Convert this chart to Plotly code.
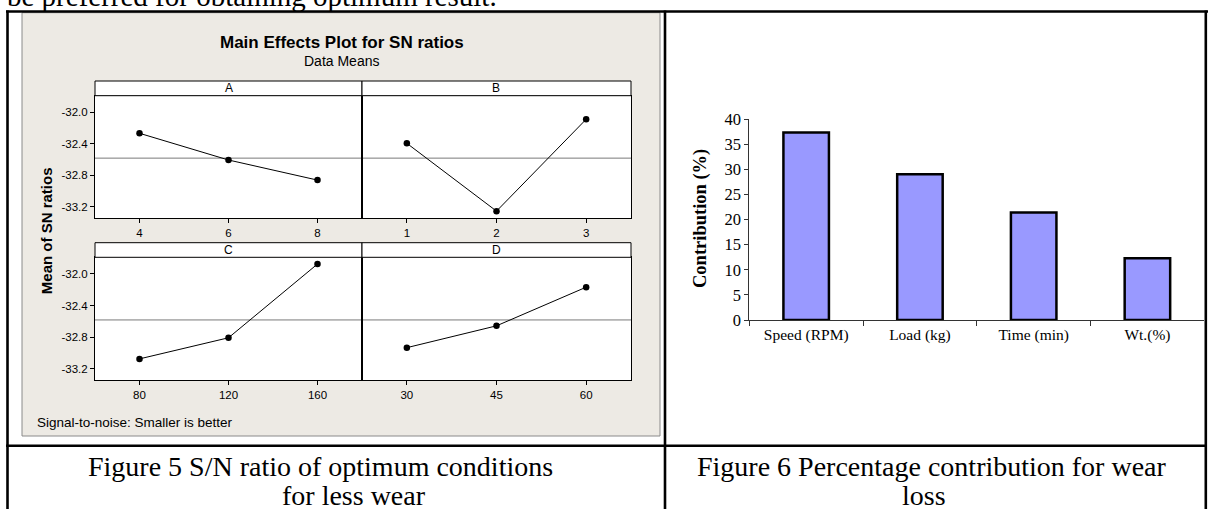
import plotly.graph_objects as go

# ---------------- data ----------------
A_levels = ["4", "6", "8"]
A_sn = [-32.267, -32.606, -32.861]
B_levels = ["1", "2", "3"]
B_sn = [-32.394, -33.255, -32.089]
C_levels = ["80", "120", "160"]
C_sn = [-33.075, -32.808, -31.875]
D_levels = ["30", "45", "60"]
D_sn = [-32.933, -32.657, -32.168]
factor_names = ["A", "B", "C", "D"]
sn_ticks = [-33.2, -32.8, -32.4, -32.0]

contrib_factors = ["Speed (RPM)", "Load (kg)", "Time (min)", "Wt.(%)"]
contrib_pct = [37.3, 29.0, 21.4, 12.3]
contrib_ticks = [0, 5, 10, 15, 20, 25, 30, 35, 40]

W, H = 1208, 509


def X(px):
    return px / W


def Y(py):
    return 1 - py / H


grand_mean = sum(A_sn + B_sn + C_sn + D_sn) / 12.0

fig = go.Figure()

panels = [
    (A_levels, A_sn, "x", "y"),
    (B_levels, B_sn, "x2", "y2"),
    (C_levels, C_sn, "x3", "y3"),
    (D_levels, D_sn, "x4", "y4"),
]
for lv, sn, xa, ya in panels:
    fig.add_trace(go.Scatter(
        x=lv, y=sn, xaxis=xa, yaxis=ya, mode="lines+markers",
        line=dict(color="black", width=1),
        marker=dict(color="black", size=6.5),
        hoverinfo="skip", showlegend=False))

fig.add_trace(go.Bar(
    x=contrib_factors, y=contrib_pct, xaxis="x5", yaxis="y5",
    width=0.4, marker=dict(color="#9999FF", line=dict(color="black", width=2.5)),
    showlegend=False, hoverinfo="skip"))

sans = "Liberation Sans, Arial, sans-serif"
serif = "Liberation Serif, Times New Roman, serif"

# panel geometry (pixels)
px_cols = [(95, 362), (362, 631)]
px_rows = [(81, 95.7, 218), (242.7, 257.3, 380)]

axis_common = dict(showline=True, linecolor="black", linewidth=1, mirror=True,
                   showgrid=False, zeroline=False)

layout_axes = {}
idx = 0
for r, (stop, ptop, pbot) in enumerate(px_rows):
    for c, (xl, xr) in enumerate(px_cols):
        idx += 1
        xs = "xaxis" if idx == 1 else "xaxis%d" % idx
        ys = "yaxis" if idx == 1 else "yaxis%d" % idx
        layout_axes[xs] = dict(
            domain=[X(xl), X(xr)], anchor="y" if idx == 1 else "y%d" % idx,
            type="category", range=[-0.5, 2.5], ticks="outside", ticklen=4,
            tickcolor="black", tickfont=dict(family=sans, size=11.5, color="black"),
            **axis_common)
        ydict = dict(
            domain=[Y(pbot), Y(ptop)], anchor="x" if idx == 1 else "x%d" % idx,
            range=[-33.342, -31.79], **axis_common)
        if c == 0:
            ydict.update(tickvals=sn_ticks, ticktext=["%.1f" % t for t in sn_ticks],
                         ticks="outside", ticklen=4, tickcolor="black",
                         tickfont=dict(family=sans, size=11.5, color="black"))
        else:
            ydict.update(showticklabels=False, ticks="")
        layout_axes[ys] = ydict

layout_axes["xaxis5"] = dict(
    domain=[X(749.3), X(1204.3)], anchor="y5", type="category", range=[-0.5, 3.5],
    showline=True, linecolor="#333333", linewidth=1, showgrid=False, zeroline=False,
    ticks="outside", tickson="boundaries", ticklen=5, tickcolor="#333333",
    tickfont=dict(family=serif, size=15.5, color="black"))
layout_axes["yaxis5"] = dict(
    domain=[Y(320), Y(119)], anchor="x5", range=[0, 40], tickvals=contrib_ticks,
    showline=True, linecolor="#333333", linewidth=1, showgrid=False, zeroline=False,
    ticks="outside", ticklen=4, tickcolor="#333333",
    tickfont=dict(family=serif, size=16.5, color="black"))

shapes = []
# Minitab graph background
shapes.append(dict(type="rect", xref="paper", yref="paper", layer="below",
                   x0=X(22), x1=X(660), y0=Y(436), y1=Y(12.7),
                   fillcolor="#EDEAE4", line=dict(color="#8a8a8a", width=1)))
for (stop, ptop, pbot) in px_rows:
    shapes.append(dict(type="rect", xref="paper", yref="paper", layer="below",
                       x0=X(95), x1=X(631), y0=Y(pbot), y1=Y(ptop),
                       fillcolor="white", line=dict(width=0)))
    for (xl, xr) in px_cols:
        shapes.append(dict(type="rect", xref="paper", yref="paper",
                           x0=X(xl), x1=X(xr), y0=Y(ptop), y1=Y(stop),
                           fillcolor="white", line=dict(color="black", width=1)))
# reference (grand mean) lines
for i in range(1, 5):
    xr_ = "x" if i == 1 else "x%d" % i
    yr_ = "y" if i == 1 else "y%d" % i
    shapes.append(dict(type="line", xref=xr_ + " domain", yref=yr_, layer="below",
                       x0=0, x1=1, y0=grand_mean, y1=grand_mean,
                       line=dict(color="#7a7a7a", width=1)))
# table rules
tl = dict(color="black", width=2.6)
shapes += [
    dict(type="line", xref="paper", yref="paper", x0=X(6), x1=X(1208), y0=Y(11.5), y1=Y(11.5), line=tl),
    dict(type="line", xref="paper", yref="paper", x0=X(7.5), x1=X(7.5), y0=Y(10.5), y1=Y(509), line=tl),
    dict(type="line", xref="paper", yref="paper", x0=X(1205.8), x1=X(1205.8), y0=Y(10.5), y1=Y(509), line=tl),
    dict(type="line", xref="paper", yref="paper", x0=X(665), x1=X(665), y0=Y(10.5), y1=Y(509), line=tl),
    dict(type="line", xref="paper", yref="paper", x0=X(6), x1=X(1207), y0=Y(445.7), y1=Y(445.7), line=tl),
]

ann = []


def A(txt, x, y, size, family, xanchor="center", bold=False, angle=0):
    ann.append(dict(text=("<b>%s</b>" % txt) if bold else txt, x=X(x), y=Y(y),
                    xref="paper", yref="paper", xanchor=xanchor, yanchor="middle",
                    showarrow=False, textangle=angle,
                    font=dict(family=family, size=size, color="black")))


A("be preferred for obtaining optimum result.", 5, -4.5, 29, serif, xanchor="left")
A("Main Effects Plot for SN ratios", 341.5, 42.7, 17, sans, bold=True)
A("Data Means", 341, 61, 14, sans)
for name, (stop, ptop, _), (xl, xr) in [
        (factor_names[0], px_rows[0], px_cols[0]),
        (factor_names[1], px_rows[0], px_cols[1]),
        (factor_names[2], px_rows[1], px_cols[0]),
        (factor_names[3], px_rows[1], px_cols[1])]:
    A(name, (xl + xr) / 2, (stop + ptop) / 2, 12, sans)
A("Mean of SN ratios", 46.7, 230.5, 15, sans, bold=True, angle=-90)
A("Signal-to-noise: Smaller is better", 35, 422.7, 13.5, sans, xanchor="left")
A("Contribution (%)", 700, 219, 18.5, serif, bold=True, angle=-90)
A("Figure 5 S/N ratio of optimum conditions", 86, 466, 28, serif, xanchor="left")
A("for less wear", 280, 495, 28, serif, xanchor="left")
A("Figure 6 Percentage contribution for wear", 695, 466, 28, serif, xanchor="left")
A("loss", 900, 495, 28, serif, xanchor="left")

fig.update_layout(
    width=W, height=H,
    margin=dict(l=0, r=0, t=0, b=0, pad=0, autoexpand=False),
    paper_bgcolor="white", plot_bgcolor="rgba(0,0,0,0)", showlegend=False,
    shapes=shapes, annotations=ann, bargap=0.6, **layout_axes)

fig.write_html("out.html", config={"displayModeBar": False},
               post_script="document.body.style.margin='0px';document.body.style.padding='0px';")
